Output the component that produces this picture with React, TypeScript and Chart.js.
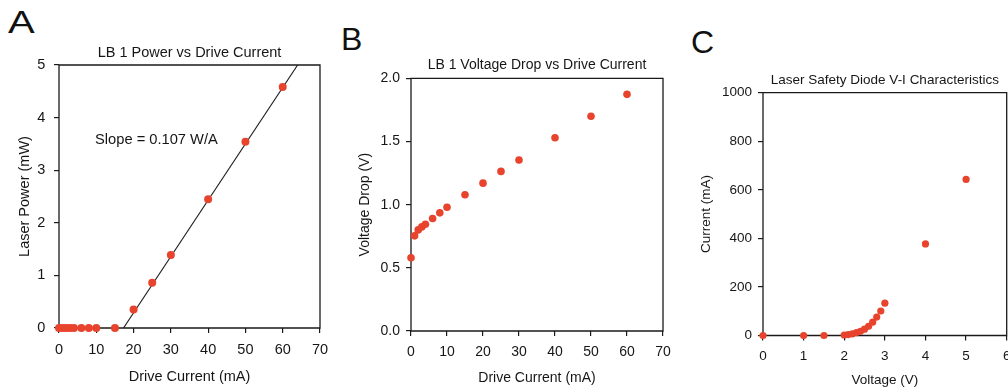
import React, { useEffect, useRef } from "react";
import { Chart, registerables } from "chart.js";

Chart.register(...registerables);

// ---------- Panel A: LB 1 Power vs Drive Current ----------
const powerCurrentMA = [0, 1, 2, 3, 4, 6, 8, 10, 15, 20, 25, 30, 40, 50, 60];
const laserPowerMW = [0, 0, 0, 0, 0, 0, 0, 0, 0, 0.35, 0.86, 1.39, 2.45, 3.54, 4.58];
const fitCurrentMA = [17.3, 64.0];
const fitPowerMW = [0, 5.0];
const slopeLabel = "Slope = 0.107 W/A";
const xTicksA = [0, 10, 20, 30, 40, 50, 60, 70];
const yTicksA = [0, 1, 2, 3, 4, 5];

// ---------- Panel B: LB 1 Voltage Drop vs Drive Current ----------
const dropCurrentMA = [0, 1, 2, 3, 4, 6, 8, 10, 15, 20, 25, 30, 40, 50, 60];
const voltageDropV = [0.58, 0.753, 0.8, 0.824, 0.845, 0.89, 0.935, 0.98, 1.078, 1.17, 1.263, 1.353, 1.53, 1.7, 1.873];
const xTicksB = [0, 10, 20, 30, 40, 50, 60, 70];
const yTicksB = [0, 0.5, 1.0, 1.5, 2.0];

// ---------- Panel C: Laser Safety Diode V-I Characteristics ----------
const diodeVoltageV = [0, 1, 1.5, 2.0, 2.1, 2.2, 2.3, 2.4, 2.5, 2.6, 2.7, 2.8, 2.9, 3.0, 4, 5];
const diodeCurrentMA = [0, 0, 0, 2, 4, 7, 12, 17, 26, 38, 55, 76, 101, 133, 377, 643];
const xTicksC = [0, 1, 2, 3, 4, 5, 6];
const yTicksC = [0, 200, 400, 600, 800, 1000];

const FONT = "'Liberation Sans', Arial, Helvetica, sans-serif";
const TEXT = "#161616";
const AXIS = "#1a1a1a";
const DOT = "#e8432d";

const framePlugin = {
  id: "frame",
  beforeDatasetsDraw(chart: any) {
    const { ctx, chartArea } = chart;
    const { left, right, top, bottom } = chartArea;
    ctx.save();
    ctx.strokeStyle = AXIS;
    ctx.lineWidth = 1.3;
    ctx.beginPath();
    ctx.rect(left, top, right - left, bottom - top);
    ctx.stroke();
    ctx.restore();
  },
};

const notePlugin = {
  id: "note",
  afterDatasetsDraw(chart: any, _args: any, opts: any) {
    if (!opts || !opts.text) return;
    const { ctx } = chart;
    const x = chart.scales.x.getPixelForValue(opts.x);
    const y = chart.scales.y.getPixelForValue(opts.y);
    ctx.save();
    ctx.font = `${opts.size}px ${FONT}`;
    ctx.fillStyle = TEXT;
    ctx.textAlign = "left";
    ctx.textBaseline = "middle";
    ctx.fillText(opts.text, x, y);
    ctx.restore();
  },
};

type PanelCfg = {
  box: { x: number; y: number; w: number; h: number };
  fs: number;
  title: string;
  titleGap: number;
  xTitle: string;
  yTitle: string;
  xTitlePad: number;
  yTitlePad: number;
  xh: number;
  yw: number;
  padR: number;
  xTicks: number[];
  yTicks: number[];
  xPad: number;
  yPad: number;
  yFmt: (v: number) => string;
  datasets: any[];
  note?: any;
};

function buildConfig(p: PanelCfg): any {
  const font = { family: FONT, size: p.fs, lineHeight: 1.2, weight: "normal" as const };
  const xs = p.xTicks;
  const ys = p.yTicks;
  return {
    type: "scatter",
    data: { datasets: p.datasets },
    plugins: [framePlugin, notePlugin],
    options: {
      animation: false,
      responsive: false,
      maintainAspectRatio: false,
      events: [],
      layout: { padding: { left: 0, right: p.padR, top: 0, bottom: 0 } },
      plugins: {
        legend: { display: false },
        tooltip: { enabled: false },
        title: {
          display: true,
          text: p.title,
          fullSize: false,
          color: TEXT,
          font,
          padding: { top: 0, bottom: p.titleGap },
        },
        note: p.note || {},
      },
      scales: {
        x: {
          type: "linear",
          min: xs[0],
          max: xs[xs.length - 1],
          afterBuildTicks: (s: any) => {
            s.ticks = xs.map((v) => ({ value: v }));
          },
          afterFit: (s: any) => {
            s.height = p.xh;
          },
          ticks: {
            color: TEXT,
            font,
            padding: p.xPad,
            maxRotation: 0,
            autoSkip: false,
            callback: (v: any) => String(v),
          },
          grid: { drawOnChartArea: false, tickLength: 5, color: AXIS, lineWidth: 1.2 },
          border: { display: false },
          title: {
            display: true,
            text: p.xTitle,
            color: TEXT,
            font,
            padding: { top: 0, bottom: p.xTitlePad },
          },
        },
        y: {
          type: "linear",
          min: ys[0],
          max: ys[ys.length - 1],
          afterBuildTicks: (s: any) => {
            s.ticks = ys.map((v) => ({ value: v }));
          },
          afterFit: (s: any) => {
            s.width = p.yw;
          },
          ticks: {
            color: TEXT,
            font,
            padding: p.yPad,
            autoSkip: false,
            callback: (v: any) => p.yFmt(Number(v)),
          },
          grid: { drawOnChartArea: false, tickLength: 5, color: AXIS, lineWidth: 1.2 },
          border: { display: false },
          title: {
            display: true,
            text: p.yTitle,
            color: TEXT,
            font,
            padding: { top: p.yTitlePad, bottom: 0 },
          },
        },
      },
    },
  };
}

const dots = (xs: number[], ys: number[], r: number) => ({
  data: xs.map((x, i) => ({ x, y: ys[i] })),
  showLine: false,
  clip: false,
  pointRadius: r,
  pointBackgroundColor: DOT,
  pointBorderColor: DOT,
  pointBorderWidth: 0,
});

const panels: PanelCfg[] = [
  {
    box: { x: 0, y: 44, w: 340, h: 342 },
    fs: 14.5,
    title: "LB 1 Power vs Drive Current",
    titleGap: 3.6,
    xTitle: "Drive Current (mA)",
    yTitle: "Laser Power (mW)",
    xTitlePad: 0.3,
    yTitlePad: 16.3,
    xh: 58,
    yw: 59,
    padR: 20,
    xTicks: xTicksA,
    yTicks: yTicksA,
    xPad: 8.3,
    yPad: 8.6,
    yFmt: (v) => String(v),
    datasets: [
      dots(powerCurrentMA, laserPowerMW, 4),
      {
        data: fitCurrentMA.map((x, i) => ({ x, y: fitPowerMW[i] })),
        showLine: true,
        pointRadius: 0,
        borderColor: "#1a1a1a",
        borderWidth: 1.1,
        fill: false,
      },
    ],
    note: { text: slopeLabel, x: 9.65, y: 3.574, size: 14.7 },
  },
  {
    box: { x: 340, y: 57, w: 343, h: 330 },
    fs: 14,
    title: "LB 1 Voltage Drop vs Drive Current",
    titleGap: 4.5,
    xTitle: "Drive Current (mA)",
    yTitle: "Voltage Drop (V)",
    xTitlePad: 0.6,
    yTitlePad: 16.6,
    xh: 56,
    yw: 71,
    padR: 20,
    xTicks: xTicksB,
    yTicks: yTicksB,
    xPad: 7.6,
    yPad: 6,
    yFmt: (v) => v.toFixed(1),
    datasets: [dots(dropCurrentMA, voltageDropV, 3.8)],
  },
  {
    box: { x: 680, y: 72, w: 347, h: 317 },
    fs: 13.5,
    title: "Laser Safety Diode V-I Characteristics",
    titleGap: 4.5,
    xTitle: "Voltage (V)",
    yTitle: "Current (mA)",
    xTitlePad: 0.9,
    yTitlePad: 17.9,
    xh: 53.5,
    yw: 83,
    padR: 20.3,
    xTicks: xTicksC,
    yTicks: yTicksC,
    xPad: 7.4,
    yPad: 6,
    yFmt: (v) => String(v),
    datasets: [dots(diodeVoltageV, diodeCurrentMA, 3.6)],
  },
];

function Panel({ cfg }: { cfg: PanelCfg }) {
  const ref = useRef<HTMLCanvasElement>(null);
  useEffect(() => {
    const chart = new Chart(ref.current as HTMLCanvasElement, buildConfig(cfg));
    return () => chart.destroy();
  }, [cfg]);
  const b = cfg.box;
  return (
    <canvas
      ref={ref}
      width={b.w}
      height={b.h}
      style={{ position: "absolute", left: b.x, top: b.y, width: b.w, height: b.h }}
    />
  );
}

const letterStyle = (left: number, top: number, sx: number): React.CSSProperties => ({
  position: "absolute",
  left,
  top,
  fontFamily: FONT,
  fontSize: 32,
  lineHeight: "32px",
  color: "#111",
  transform: `scaleX(${sx})`,
  transformOrigin: "left top",
});

export default function App() {
  return (
    <div
      style={{
        position: "fixed",
        left: 0,
        top: 0,
        width: 1008,
        height: 389,
        overflow: "hidden",
        background: "#fff",
      }}
    >
      <div style={letterStyle(8, 6, 1.25)}>A</div>
      <div style={letterStyle(341, 23, 1)}>B</div>
      <div style={letterStyle(691, 26, 1)}>C</div>
      {panels.map((p, i) => (
        <Panel key={i} cfg={p} />
      ))}
    </div>
  );
}
